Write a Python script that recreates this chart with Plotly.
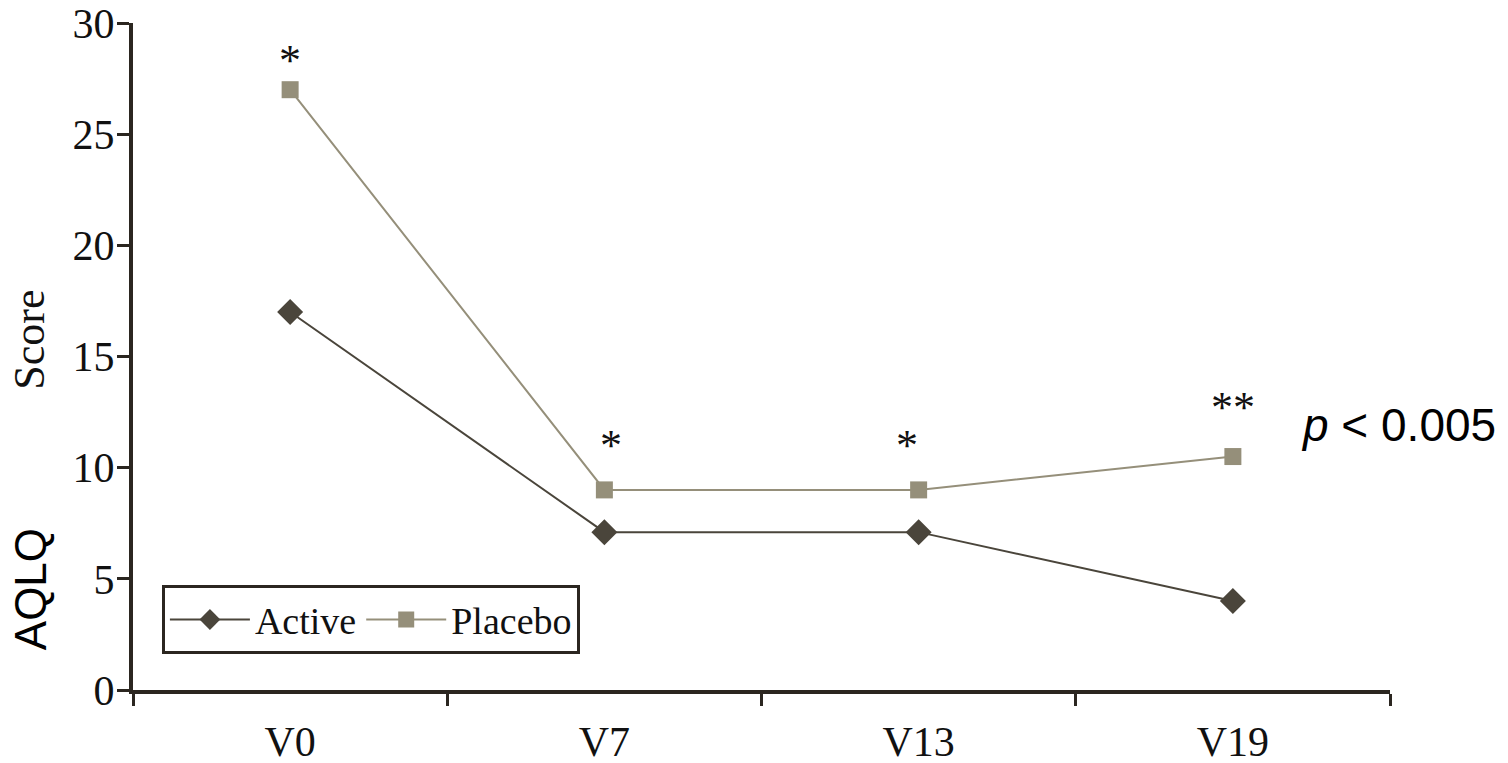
import plotly.graph_objects as go

visits = ["V0", "V7", "V13", "V19"]
active = [17.0, 7.1, 7.1, 4.0]
placebo = [27.0, 9.0, 9.0, 10.5]
sig_marks = ["*", "*", "*", "**"]
sig_y = [28.3, 11.0, 11.0, 12.7]
sig_xshift = [0, 7, -12, 0]
y_ticks = [0, 5, 10, 15, 20, 25, 30]

AX = "#2b2620"
ACT = "#4a453b"
PLA = "#958f7a"
SERIF = "Liberation Serif, Times New Roman, serif"
SANS = "Liberation Sans, Arial, sans-serif"

fig = go.Figure()
fig.add_trace(go.Scatter(x=visits, y=active, name="Active", mode="lines+markers",
                         line=dict(color=ACT, width=2),
                         marker=dict(symbol="diamond", size=20, color=ACT)))
fig.add_trace(go.Scatter(x=visits, y=placebo, name="Placebo", mode="lines+markers",
                         line=dict(color=PLA, width=2),
                         marker=dict(symbol="square", size=17, color=PLA)))

for v, s, yy, xs in zip(visits, sig_marks, sig_y, sig_xshift):
    fig.add_annotation(x=v, y=yy, text=s, showarrow=False, xshift=xs,
                       font=dict(family=SERIF, size=44, color="#111"),
                       yanchor="middle")

fig.add_annotation(xref="paper", yref="paper", x=0.928, y=0.398, xanchor="left",
                   yanchor="middle",
                   text="<i>p</i> < 0.005", showarrow=False,
                   font=dict(family=SANS, size=46, color="black"))
fig.add_annotation(xref="paper", yref="paper", x=-0.082, y=0.525, textangle=-90,
                   xanchor="center", yanchor="middle",
                   text="Score", showarrow=False,
                   font=dict(family=SERIF, size=44, color="#111"))
fig.add_annotation(xref="paper", yref="paper", x=-0.082, y=0.151, textangle=-90,
                   xanchor="center", yanchor="middle",
                   text="AQLQ", showarrow=False,
                   font=dict(family=SANS, size=44, color="black"))

fig.update_layout(
    width=1508, height=763,
    margin=dict(l=133, r=118, t=23, b=73),
    plot_bgcolor="white", paper_bgcolor="white",
    showlegend=True,
    legend=dict(orientation="h", x=0.023, y=0.157, xanchor="left", yanchor="top",
                bordercolor=AX, borderwidth=3, bgcolor="white",
                font=dict(family=SERIF, size=38, color="#111"),
                itemwidth=80),
    xaxis=dict(type="category", range=[-0.5, 3.5], tickson="boundaries",
               showline=True, linecolor=AX, linewidth=4, ticks="outside",
               ticklen=12, tickwidth=3, tickcolor=AX, showgrid=False,
               automargin=False, ticklabeloverflow="allow",
               tickfont=dict(family=SERIF, size=42, color="#111"),
               ticklabelstandoff=12),
    yaxis=dict(range=[0, 30], tickvals=y_ticks, showline=True, linecolor=AX,
               linewidth=4, ticks="outside", ticklen=12, tickwidth=3, tickcolor=AX,
               showgrid=False, zeroline=False, automargin=False,
               ticklabeloverflow="allow",
               tickfont=dict(family=SERIF, size=42, color="#111"),
               ticklabelstandoff=-6),
)

fig.write_html("out.html")
